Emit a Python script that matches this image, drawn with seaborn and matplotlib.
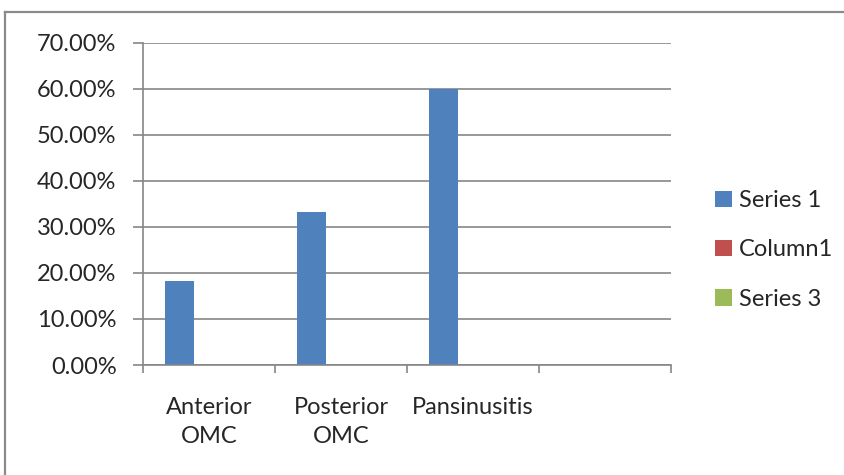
import numpy as np
import pandas as pd
import seaborn as sns
import matplotlib
matplotlib.use("Agg")
import matplotlib.pyplot as plt
from matplotlib.patches import Patch
from matplotlib.lines import Line2D
from matplotlib.ticker import PercentFormatter

# Chart data
categories = ["Anterior\nOMC", "Posterior\nOMC", "Pansinusitis", ""]
series_names = ["Series 1", "Column1", "Series 3"]
series_1 = [0.182, 0.333, 0.600, np.nan]
column_1 = [0.0, 0.0, 0.0, np.nan]
series_3 = [0.0, 0.0, 0.0, np.nan]
y_ticks = [0.0, 0.1, 0.2, 0.3, 0.4, 0.5, 0.6, 0.7]
colors = ["#4F81BD", "#C0504D", "#9BBB59"]

df = pd.DataFrame({
    "category": categories * 3,
    "series": [s for s in series_names for _ in categories],
    "value": series_1 + column_1 + series_3,
})

sns.set_theme(style="white")
plt.rcParams["font.family"] = ["Lato", "DejaVu Sans"]

fig = plt.figure(figsize=(8.45, 4.75), dpi=100)
ax = fig.add_axes([143 / 845, 1 - 365 / 475, (671 - 143) / 845, (365 - 42.7) / 475])

sns.barplot(data=df, x="category", y="value", hue="series",
            order=categories, hue_order=series_names, palette=colors,
            width=2 / 3, saturation=1, linewidth=0, errorbar=None,
            legend=False, ax=ax)

grid_col = "#868686"
ax.set_ylim(0, 0.7)
ax.set_xlim(-0.5, len(categories) - 0.5)
ax.set_yticks(y_ticks)
ax.yaxis.set_major_formatter(PercentFormatter(1.0, decimals=2))
ax.yaxis.grid(True, color=grid_col, linewidth=1.2)
ax.set_axisbelow(True)

# Tick marks sit between categories, labels at category centres
ax.set_xticks(np.arange(-0.5, len(categories)), labels=[""] * (len(categories) + 1))
ax.set_xticks(np.arange(len(categories)), labels=categories, minor=True)
ax.tick_params(axis="x", which="major", length=6, width=1.2, color=grid_col, direction="out", bottom=True)
ax.tick_params(axis="x", which="minor", length=0, pad=23, labelsize=17)
ax.tick_params(axis="y", length=7, width=1.2, color=grid_col, direction="out", left=True, pad=12, labelsize=17)
for lbl in ax.get_xticklabels(minor=True):
    lbl.set_linespacing(1.5)
ax.set_xlabel("")
ax.set_ylabel("")

for side in ["top", "right"]:
    ax.spines[side].set_visible(False)
for side in ["left", "bottom"]:
    ax.spines[side].set_color(grid_col)
    ax.spines[side].set_linewidth(1.2)

handles = [Patch(facecolor=c, edgecolor="none", label=n) for c, n in zip(colors, series_names)]
fig.legend(handles=handles, loc="center left", bbox_to_anchor=(706 / 845, 1 - 250 / 475),
           frameon=False, fontsize=17, handlelength=0.7, handleheight=0.7,
           handletextpad=0.3, labelspacing=1.2, borderaxespad=0)

# Chart area border (top and left edges; the rest lies outside the image)
bx, by = 5.5 / 845, 1 - 12 / 475
fig.add_artist(Line2D([bx, 1.0], [by, by], transform=fig.transFigure,
                      color="#8A8A8A", linewidth=1.6, solid_capstyle="projecting"))
fig.add_artist(Line2D([bx, bx], [0.0, by], transform=fig.transFigure,
                      color="#8A8A8A", linewidth=1.6, solid_capstyle="projecting"))

fig.savefig("out.png", dpi=100, facecolor="white")
